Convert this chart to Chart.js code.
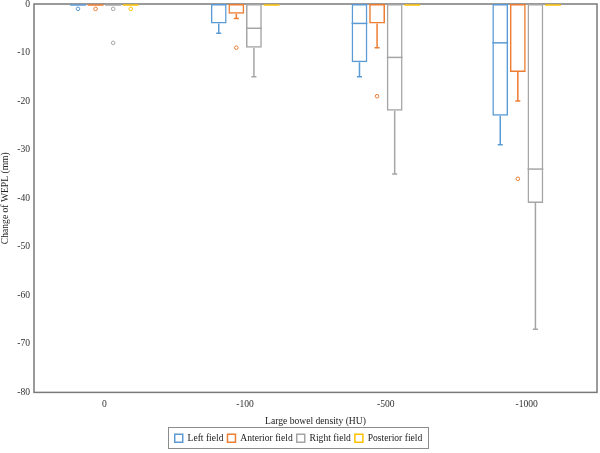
<!DOCTYPE html>
<html>
<head>
<meta charset="utf-8">
<script src="https://cdn.jsdelivr.net/npm/chart.js@4/dist/chart.umd.min.js"></script>
<style>
  html, body { margin: 0; padding: 0; background: #ffffff; }
  #wrap { width: 600px; height: 453px; }
</style>
</head>
<body>
<div id="wrap"><canvas id="c" width="600" height="453"></canvas></div>
<script>
// ---- data ----
const categories = ['0', '-100', '-500', '-1000'];
const seriesNames = ['Left field', 'Anterior field', 'Right field', 'Posterior field'];

// Left field
const leftUpper    = [0, 0, 0, 0];
const leftLower    = [0, -4, -12, -23];
const leftMedian   = [0, 0, -4, -8];
const leftMin      = [0, -6, -15, -29];
const leftOutliers = [[-1], [], [], []];

// Anterior field
const antUpper    = [0, 0, 0, 0];
const antLower    = [0, -2, -4, -14];
const antMedian   = [0, 0, 0, 0];
const antMin      = [0, -3, -9, -20];
const antOutliers = [[-1], [-9], [-19], [-36]];

// Right field
const rightUpper    = [0, 0, 0, 0];
const rightLower    = [0, -9, -22, -41];
const rightMedian   = [0, -5, -11, -34];
const rightMin      = [0, -15, -35, -67];
const rightOutliers = [[-1, -8], [], [], []];

// Posterior field
const postUpper    = [0, 0, 0, 0];
const postLower    = [0, 0, 0, 0];
const postMedian   = [0, 0, 0, 0];
const postMin      = [0, 0, 0, 0];
const postOutliers = [[-1], [], [], []];

const yTicks = [0, -10, -20, -30, -40, -50, -60, -70, -80];

// ---- styling ----
const colors = ['#5B9BD5', '#ED7D31', '#A5A5A5', '#FFC000'];
const FONT = "'Liberation Serif', 'Times New Roman', serif";
const FS = 9.6;
const stats = [
  {upper: leftUpper, lower: leftLower, median: leftMedian, min: leftMin, out: leftOutliers},
  {upper: antUpper, lower: antLower, median: antMedian, min: antMin, out: antOutliers},
  {upper: rightUpper, lower: rightLower, median: rightMedian, min: rightMin, out: rightOutliers},
  {upper: postUpper, lower: postLower, median: postMedian, min: postMin, out: postOutliers}
];

const datasets = stats.map((s, di) => ({
  label: seriesNames[di],
  data: categories.map((c, i) => [s.upper[i], s.lower[i]]),
  backgroundColor: 'rgba(255,255,255,0)',
  borderColor: colors[di],
  borderWidth: 1.5,
  borderSkipped: false,
  categoryPercentage: 0.5,
  barPercentage: 0.9
}));

const boxPlugin = {
  id: 'boxExtras',
  beforeDatasetsDraw(chart) {
    const {ctx, chartArea: a} = chart;
    ctx.save();
    ctx.strokeStyle = '#7a7a7a';
    ctx.lineWidth = 1.5;
    ctx.strokeRect(a.left, a.top, a.right - a.left, a.bottom - a.top);
    ctx.restore();
  },
  afterDatasetsDraw(chart) {
    const ctx = chart.ctx;
    const ys = chart.scales.y;
    chart.data.datasets.forEach((ds, di) => {
      const meta = chart.getDatasetMeta(di);
      const s = stats[di];
      meta.data.forEach((bar, i) => {
        const p = bar.getProps(['x', 'width'], true);
        const x = p.x, w = p.width;
        ctx.save();
        ctx.strokeStyle = colors[di];
        ctx.lineWidth = 1.5;
        const yU = ys.getPixelForValue(s.upper[i]);
        const yL = ys.getPixelForValue(s.lower[i]);
        // flat box
        if (s.upper[i] === s.lower[i]) {
          ctx.beginPath();
          ctx.moveTo(x - w / 2, yU + 1);
          ctx.lineTo(x + w / 2, yU + 1);
          ctx.stroke();
        }
        // median
        if (s.median[i] !== s.upper[i] && s.median[i] !== s.lower[i]) {
          const yM = ys.getPixelForValue(s.median[i]);
          ctx.beginPath();
          ctx.moveTo(x - w / 2, yM);
          ctx.lineTo(x + w / 2, yM);
          ctx.stroke();
        }
        // lower whisker
        if (s.min[i] < s.lower[i]) {
          const yW = ys.getPixelForValue(s.min[i]);
          ctx.beginPath();
          ctx.moveTo(x, yL);
          ctx.lineTo(x, yW);
          ctx.moveTo(x - 2.5, yW);
          ctx.lineTo(x + 2.5, yW);
          ctx.stroke();
        }
        // outliers
        ctx.lineWidth = 1;
        s.out[i].forEach(v => {
          const yo = ys.getPixelForValue(v);
          ctx.beginPath();
          ctx.arc(x, yo, 1.8, 0, Math.PI * 2);
          ctx.fillStyle = '#ffffff';
          ctx.fill();
          ctx.stroke();
        });
        ctx.restore();
      });
    });
  },
  afterDraw(chart) {
    const lg = chart.legend;
    if (!lg || !lg.legendHitBoxes || !lg.legendHitBoxes.length) return;
    const hb = lg.legendHitBoxes;
    let l = Infinity, r = -Infinity, t = Infinity, b = -Infinity;
    hb.forEach(h => {
      l = Math.min(l, h.left); r = Math.max(r, h.left + h.width);
      t = Math.min(t, h.top); b = Math.max(b, h.top + h.height);
    });
    const ctx = chart.ctx;
    ctx.save();
    ctx.strokeStyle = '#8c8c8c';
    ctx.lineWidth = 1;
    ctx.strokeRect(Math.round(l - 7) + 0.5, Math.round(t - 6) + 0.5, Math.round(r - l + 12), Math.round(b - t + 11));
    ctx.restore();
  }
};

new Chart(document.getElementById('c'), {
  type: 'bar',
  data: { labels: categories, datasets: datasets },
  plugins: [boxPlugin],
  options: {
    responsive: false,
    animation: false,
    layout: { padding: { left: 0, top: 4, right: 3, bottom: 0 } },
    plugins: {
      tooltip: { enabled: false },
      legend: {
        position: 'bottom',
        labels: {
          font: { family: FONT, size: FS },
          color: '#222222',
          boxWidth: 8,
          boxHeight: 8,
          padding: 4
        }
      }
    },
    scales: {
      x: {
        grid: { display: false, drawTicks: false },
        border: { display: false },
        ticks: { font: { family: FONT, size: FS }, color: '#333333', padding: 6, maxRotation: 0 },
        title: { display: true, text: 'Large bowel density (HU)', font: { family: FONT, size: FS }, color: '#222222', padding: { top: 0, bottom: 2 } },
        afterFit(scale) { scale.height = 37; }
      },
      y: {
        min: -80,
        max: 0,
        afterBuildTicks(scale) { scale.ticks = yTicks.map(v => ({ value: v })); },
        grid: { display: false, drawTicks: false },
        border: { display: false },
        ticks: { font: { family: FONT, size: FS }, color: '#333333', padding: 4 },
        title: { display: true, text: 'Change of WEPL (mm)', font: { family: FONT, size: FS }, color: '#222222', padding: { top: 0, bottom: 0 } },
        afterFit(scale) { scale.width = 34; scale.paddingTop = 4; scale.paddingBottom = 0; }
      }
    }
  }
});
</script>
</body>
</html>
